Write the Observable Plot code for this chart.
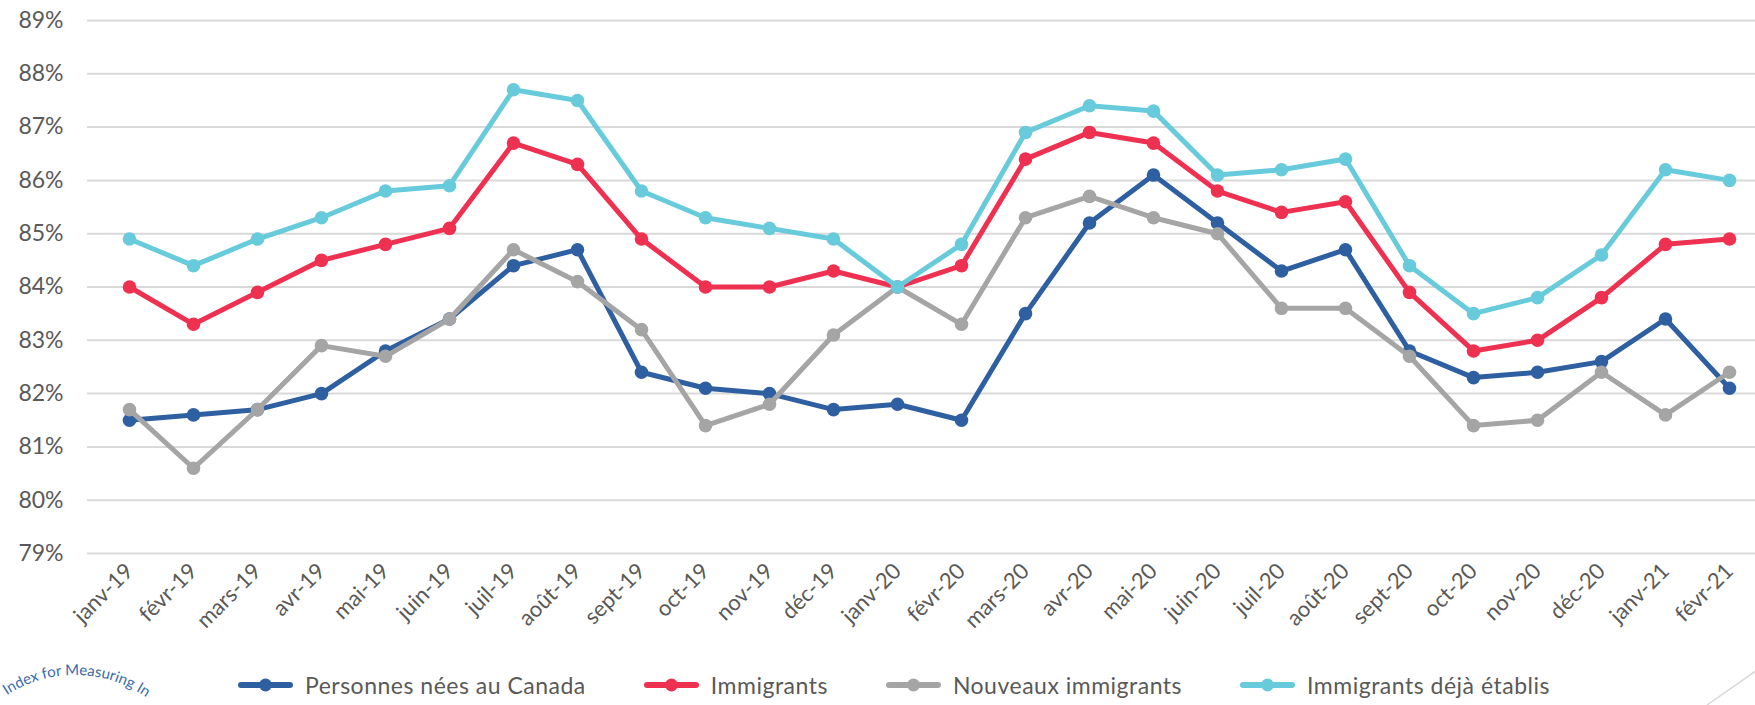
<!DOCTYPE html>
<html>
<head>
<meta charset="utf-8">
<script src="https://cdn.jsdelivr.net/npm/d3@7"></script>
<script src="https://cdn.jsdelivr.net/npm/@observablehq/plot@0.6"></script>
<style>
  html, body { margin: 0; padding: 0; background: #fff; overflow: hidden; }
  #wrap { position: relative; width: 1755px; height: 705px; overflow: hidden; font-family: Lato, "Open Sans", sans-serif; }
  #chart { position: absolute; left: 0; top: 0; }
  #legend { position: absolute; left: 238px; top: 671px; display: flex; align-items: center; gap: 58px;
            font-size: 23px; letter-spacing: 0.5px; color: #595959; white-space: nowrap; }
  .item { display: flex; align-items: center; }
  .item span { margin-left: 12px; }
  #deco { position: absolute; left: 0; top: 0; pointer-events: none; }
</style>
</head>
<body>
<div id="wrap">
  <div id="chart"></div>
  <div id="legend"></div>
  <svg id="deco" width="1755" height="705">
    <defs><path id="arc" d="M -50 800 A 125 125 0 0 1 200 800"></path></defs>
    <text font-family="Lato, sans-serif" font-size="15" fill="#3A6BAA"><textPath href="#arc" startOffset="124">Index for Measuring In</textPath></text>
    <line x1="1707" y1="705" x2="1760" y2="668" stroke="#d9d9d9" stroke-width="1.5"></line>
  </svg>
</div>
<script>
const months = ["janv-19","févr-19","mars-19","avr-19","mai-19","juin-19","juil-19","août-19","sept-19","oct-19","nov-19","déc-19",
                "janv-20","févr-20","mars-20","avr-20","mai-20","juin-20","juil-20","août-20","sept-20","oct-20","nov-20","déc-20",
                "janv-21","févr-21"];
const personnes = [81.5,81.6,81.7,82.0,82.8,83.4,84.4,84.7,82.4,82.1,82.0,81.7,81.8,81.5,83.5,85.2,86.1,85.2,84.3,84.7,82.8,82.3,82.4,82.6,83.4,82.1];
const immigrants = [84.0,83.3,83.9,84.5,84.8,85.1,86.7,86.3,84.9,84.0,84.0,84.3,84.0,84.4,86.4,86.9,86.7,85.8,85.4,85.6,83.9,82.8,83.0,83.8,84.8,84.9];
const nouveaux = [81.7,80.6,81.7,82.9,82.7,83.4,84.7,84.1,83.2,81.4,81.8,83.1,84.0,83.3,85.3,85.7,85.3,85.0,83.6,83.6,82.7,81.4,81.5,82.4,81.6,82.4];
const etablis = [84.9,84.4,84.9,85.3,85.8,85.9,87.7,87.5,85.8,85.3,85.1,84.9,84.0,84.8,86.9,87.4,87.3,86.1,86.2,86.4,84.4,83.5,83.8,84.6,86.2,86.0];
const seriesNames = ["Personnes nées au Canada","Immigrants","Nouveaux immigrants","Immigrants déjà établis"];
const seriesColors = ["#2E5FA1","#EE3150","#A5A5A5","#67CBDB"];
const yTicks = [79,80,81,82,83,84,85,86,87,88,89];

const seriesValues = [personnes, immigrants, nouveaux, etablis];
const rows = seriesNames.map((name, i) => months.map((m, j) => ({series: name, month: m, value: seriesValues[i][j]})));

const marks = [
  Plot.gridY(yTicks, {stroke: "#d9d9d9", strokeWidth: 2, strokeOpacity: 1}),
  Plot.axisY(yTicks, {tickSize: 0, tickPadding: 24, tickFormat: d => d + "%", fontSize: 23, fill: "#595959"}),
  Plot.axisX({tickSize: 0, tickPadding: 14, tickRotate: -45, fontSize: 22, fill: "#595959"})
];
rows.forEach((data, i) => {
  marks.push(Plot.lineY(data, {x: "month", y: "value", stroke: seriesColors[i], strokeWidth: 5, strokeLinejoin: "round"}));
  marks.push(Plot.dot(data, {x: "month", y: "value", fill: seriesColors[i], r: 6.8}));
});

const chart = Plot.plot({
  width: 1755, height: 650,
  marginLeft: 87, marginRight: 0, marginTop: 20, marginBottom: 97,
  style: {fontFamily: "Lato, 'Open Sans', sans-serif", fontSize: "22px", color: "#595959", background: "transparent"},
  x: {type: "point", domain: months, range: [87, 1771], padding: 0.5, label: null},
  y: {domain: [79, 89], label: null},
  marks
});
document.getElementById("chart").appendChild(chart);

const legend = document.getElementById("legend");
seriesNames.forEach((name, i) => {
  const item = document.createElement("div");
  item.className = "item";
  item.innerHTML = `<svg width="55" height="16"><line x1="3" y1="8" x2="52" y2="8" stroke="${seriesColors[i]}" stroke-width="6" stroke-linecap="round"/><circle cx="27.5" cy="8" r="6.5" fill="${seriesColors[i]}"/></svg><span>${name}</span>`;
  legend.appendChild(item);
});
</script>
</body>
</html>
